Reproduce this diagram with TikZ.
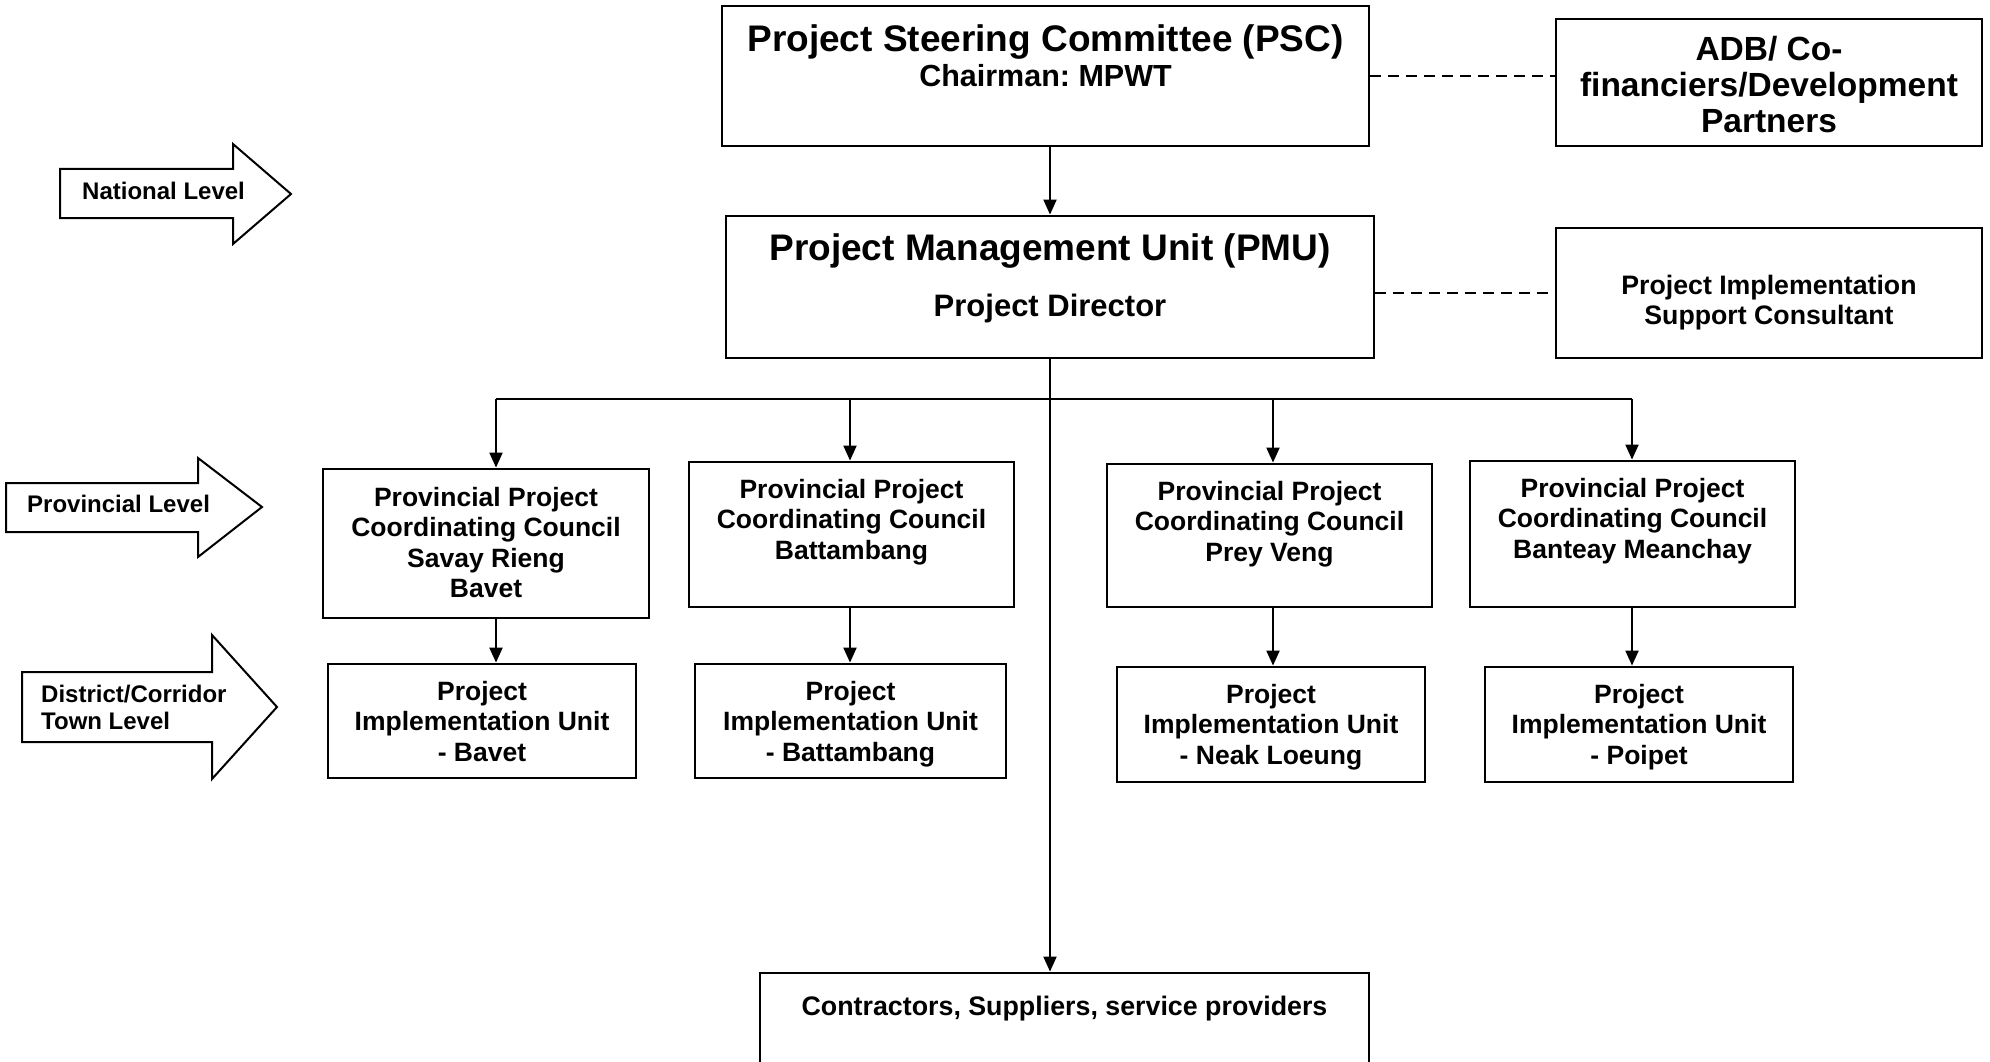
\documentclass[tikz,border=0pt]{standalone}
\usepackage{fontspec}
\setmainfont{Liberation Sans}
\usetikzlibrary{positioning,arrows.meta}
\frenchspacing

\tikzset{
    box/.style={draw, rectangle, line width=2.8pt, inner sep=0pt},
    txt/.style={align=center, inner sep=0pt, font=\bfseries\fontsize{26.5}{30.5}\selectfont},
    lvltxt/.style={inner sep=0pt, font=\bfseries\fontsize{24}{27.7}\selectfont},
    conn/.style={line width=2pt},
    link/.style={conn, -{Triangle[length=15pt,width=13pt]}},
    dashlink/.style={line width=2.5pt, dash pattern=on 11pt off 7pt},
    lvl/.style={line width=2pt, line join=miter}
}

\begin{document}
\begin{tikzpicture}[x=1pt, y=-1pt]
    \clip (0,0) rectangle (1990,1062);

    % Level arrows on the left
    \draw[lvl] (60,169) -- (233,169) -- (233,144) -- (291,194) -- (233,244) -- (233,218) -- (60,218) -- cycle;
    \node[lvltxt, anchor=base west] (natl) at (82,199) {National Level};

    \draw[lvl] (6,483) -- (198,483) -- (198,458) -- (262,507) -- (198,557) -- (198,532) -- (6,532) -- cycle;
    \node[lvltxt, anchor=base west] (prov) at (27,512) {Provincial Level};

    \draw[lvl] (22,672) -- (212,672) -- (212,635) -- (277,707) -- (212,779) -- (212,742) -- (22,742) -- cycle;
    \node[lvltxt, anchor=north west, align=left] (dist) at (41,684.5) {District/Corridor\\Town Level};

    % National level
    \node[box, minimum width=647pt, minimum height=140pt] (psc) at (1045.5,76) {};
    \node[txt, below=20pt of psc.north, font=\bfseries\fontsize{30.5}{35}\selectfont] (psctext) {%
        {\fontsize{37}{35}\selectfont Project Steering Committee (PSC)}\\
        Chairman: MPWT};

    \node[box, minimum width=426pt, minimum height=127pt] (adb) at (1769,82.5) {};
    \node[txt, below=18pt of adb.north, font=\bfseries\fontsize{33.5}{36}\selectfont] (adbtext) {%
        ADB/ Co-\\
        financiers/Development\\
        Partners};

    \node[box, minimum width=648pt, minimum height=142pt] (pmu) at (1050,287) {};
    \node[txt, below=19pt of pmu.north, font=\bfseries\fontsize{31}{56}\selectfont] (pmutext) {%
        {\fontsize{37}{56}\selectfont Project Management Unit (PMU)}\\
        Project Director};

    \node[box, minimum width=426pt, minimum height=130pt] (pisc) at (1769,293) {};
    \node[txt, below=48pt of pisc.north, font=\bfseries\fontsize{26.7}{30}\selectfont] (pisctext) {%
        Project Implementation\\
        Support Consultant};

    % Provincial level
    \node[box, minimum width=326pt, minimum height=149pt] (ppcc1) at (486,543.5) {};
    \node[txt, below=19pt of ppcc1.north] (ppcc1text) {Provincial Project\\Coordinating Council\\Savay Rieng\\Bavet};

    \node[box, minimum width=325pt, minimum height=145pt] (ppcc2) at (851.5,534.5) {};
    \node[txt, below=18pt of ppcc2.north] (ppcc2text) {Provincial Project\\Coordinating Council\\Battambang};

    \node[box, minimum width=325pt, minimum height=143pt] (ppcc3) at (1269.5,535.5) {};
    \node[txt, below=18pt of ppcc3.north] (ppcc3text) {Provincial Project\\Coordinating Council\\Prey Veng};

    \node[box, minimum width=325pt, minimum height=146pt] (ppcc4) at (1632.5,534) {};
    \node[txt, below=18pt of ppcc4.north] (ppcc4text) {Provincial Project\\Coordinating Council\\Banteay Meanchay};

    % District / corridor town level
    \node[box, minimum width=308pt, minimum height=114pt] (piu1) at (482,721) {};
    \node[txt, below=18pt of piu1.north] (piu1text) {Project\\Implementation Unit\\- Bavet};

    \node[box, minimum width=311pt, minimum height=114pt] (piu2) at (850.5,721) {};
    \node[txt, below=18pt of piu2.north] (piu2text) {Project\\Implementation Unit\\- Battambang};

    \node[box, minimum width=308pt, minimum height=115pt] (piu3) at (1271,724.5) {};
    \node[txt, below=18pt of piu3.north] (piu3text) {Project\\Implementation Unit\\- Neak Loeung};

    \node[box, minimum width=308pt, minimum height=115pt] (piu4) at (1639,724.5) {};
    \node[txt, below=18pt of piu4.north] (piu4text) {Project\\Implementation Unit\\- Poipet};

    % Contractors
    \node[box, minimum width=609pt, minimum height=110pt] (contr) at (1064.5,1028) {};
    \node[txt, below=24pt of contr.north, font=\bfseries\fontsize{26.8}{30}\selectfont] (contrtext) {Contractors, Suppliers, service providers};

    % Connectors
    \draw[link] (pmu.north |- psc.south) -- (pmu.north);
    \draw[dashlink] (psc.east) -- (psc.east -| adb.west);
    \draw[dashlink] (pisc.west -| pmu.east) -- (pisc.west);
    \draw[link] (pmu.south) -- (pmu.south |- contr.north);

    \coordinate (d1) at (496,399);
    \coordinate (d2) at (850,399);
    \coordinate (d3) at (1273,399);
    \coordinate (d4) at (1632,399);
    \draw[conn] (d1) -- (d4);

    \draw[link] (d1) -- (d1 |- ppcc1.north);
    \draw[link] (d2) -- (d2 |- ppcc2.north);
    \draw[link] (d3) -- (d3 |- ppcc3.north);
    \draw[link] (d4) -- (d4 |- ppcc4.north);

    \draw[link] (d1 |- ppcc1.south) -- (d1 |- piu1.north);
    \draw[link] (d2 |- ppcc2.south) -- (d2 |- piu2.north);
    \draw[link] (d3 |- ppcc3.south) -- (d3 |- piu3.north);
    \draw[link] (d4 |- ppcc4.south) -- (d4 |- piu4.north);
\end{tikzpicture}
\end{document}
